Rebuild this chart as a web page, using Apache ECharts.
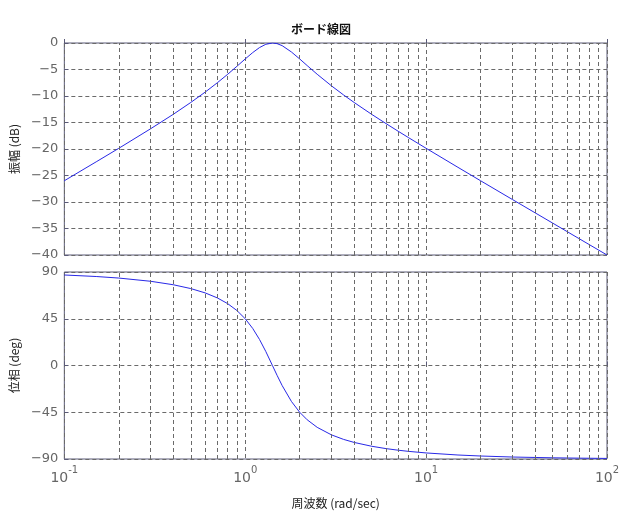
<!DOCTYPE html>
<html><head><meta charset="utf-8">
<script src="https://cdn.jsdelivr.net/npm/echarts@6/dist/echarts.min.js"></script>
<style>html,body{margin:0;padding:0;background:#fff}#c{width:642px;height:524px}</style>
</head><body><div id="c"></div>
<script>
var freq = [0.1,0.15,0.2,0.3,0.4,0.5,0.6,0.7,0.8,0.9,1.0,1.1,1.2,1.3,1.414,1.5,1.6,1.8,2.0,2.2,2.5,3,3.5,4,5,6,7,8,10,15,20,30,50,70,100];
var magDb = [-25.99,-22.42,-19.87,-16.18,-13.46,-11.22,-9.28,-7.52,-5.90,-4.39,-3.01,-1.81,-0.86,-0.24,0,-0.12,-0.50,-1.69,-3.01,-4.26,-5.90,-8.09,-9.81,-11.22,-13.46,-15.20,-16.64,-17.86,-19.87,-23.46,-25.99,-29.53,-33.97,-36.90,-40.00];
var phaseDeg = [87.12,85.66,84.17,81.07,77.74,74.05,69.91,65.13,59.53,52.90,45.0,35.69,25.02,13.41,0,-9.46,-19.29,-34.56,-45.0,-52.24,-59.53,-66.80,-71.15,-74.05,-77.74,-79.99,-81.53,-82.65,-84.17,-86.15,-87.12,-88.09,-88.85,-89.18,-89.43];
var minorGrid = [0.2,0.3,0.4,0.5,0.6,0.7,0.8,0.9,2,3,4,5,6,7,8,9,20,30,40,50,60,70,80,90];
var titleText = 'ボード線図';
var magName = '振幅 (dB)';
var phaseName = '位相 (deg)';
var freqName = '周波数 (rad/sec)';

var FONT = '"Noto Sans CJK JP", "DejaVu Sans", sans-serif';
var gridColor = '#6a6a6a';
var frameColor = '#5a5a78';
var lineColor = '#2828e6';

function pairs(ys){ return freq.map(function(f,i){ return [f, ys[i]]; }); }
function minorLines(){
  return {
    silent: true, symbol: ['none','none'], animation: false,
    label: {show:false},
    lineStyle: {type:[4,3], color: gridColor, width: 1},
    data: minorGrid.map(function(v){ return {xAxis: v}; })
  };
}
function xAxisCfg(idx, showLabel){
  return {
    type: 'log', logBase: 10, min: 0.1, max: 100, gridIndex: idx,
    axisLine: {show:false},
    axisTick: {show: true, inside: true, length: 4, lineStyle:{color: frameColor}},
    splitLine: {show: true, lineStyle: {type:[4,3], color: gridColor}},
    axisLabel: showLabel ? {
      show: true, margin: 6, color: '#666',
      formatter: function(v){ var e = Math.round(Math.log10(v)); return '{b|10}{s|' + e + '}'; },
      rich: { b: {fontSize: 14, fontFamily: 'DejaVu Sans', color:'#666', padding:[6,0,0,0]}, s: {fontSize: 10, fontFamily: 'DejaVu Sans', color:'#666', verticalAlign:'top', padding:[0,0,8,0]} }
    } : {show:false},
    name: showLabel ? freqName : '',
    nameLocation: 'middle', nameGap: 38,
    nameTextStyle: {fontFamily: FONT, fontSize: 12, color: '#222'}
  };
}
function yAxisCfg(idx, min, max, interval, name){
  return {
    type: 'value', gridIndex: idx, min: min, max: max, interval: interval,
    axisLine: {show:false},
    axisTick: {show: true, inside: true, length: 4, lineStyle:{color: frameColor}},
    splitLine: {show: true, lineStyle: {type:[4,3], color: gridColor}},
    axisLabel: {color: '#666', fontSize: 13, fontFamily: 'DejaVu Sans', margin: 6,
      formatter: function(v){ return String(v).replace('-', '\u2212'); }},
    name: name, nameLocation: 'middle', nameGap: 43, nameRotate: 90,
    nameTextStyle: {fontFamily: FONT, fontSize: 12, color: '#222'}
  };
}
var chart = echarts.init(document.getElementById('c'), null, {renderer:'canvas'});
chart.setOption({
  animation: false,
  backgroundColor: '#fff',
  title: {text: titleText, left: 'center', top: 18, textStyle: {fontFamily: FONT, fontSize: 12, fontWeight: 'bold', color: '#111'}},
  grid: [
    {left: 63, right: 35, top: 43, height: 212, show: true, borderColor: frameColor, borderWidth: 1},
    {left: 63, right: 35, top: 272, height: 187, show: true, borderColor: frameColor, borderWidth: 1}
  ],
  xAxis: [xAxisCfg(0,false), xAxisCfg(1,true)],
  yAxis: [yAxisCfg(0,-40,0,5,magName), yAxisCfg(1,-90,90,45,phaseName)],
  series: [
    {type:'line', xAxisIndex:0, yAxisIndex:0, data: pairs(magDb), showSymbol:false, smooth:false,
     lineStyle:{color: lineColor, width: 1}, markLine: minorLines()},
    {type:'line', xAxisIndex:1, yAxisIndex:1, data: pairs(phaseDeg), showSymbol:false, smooth:false,
     lineStyle:{color: lineColor, width: 1}, markLine: minorLines()}
  ]
});
</script></body></html>
